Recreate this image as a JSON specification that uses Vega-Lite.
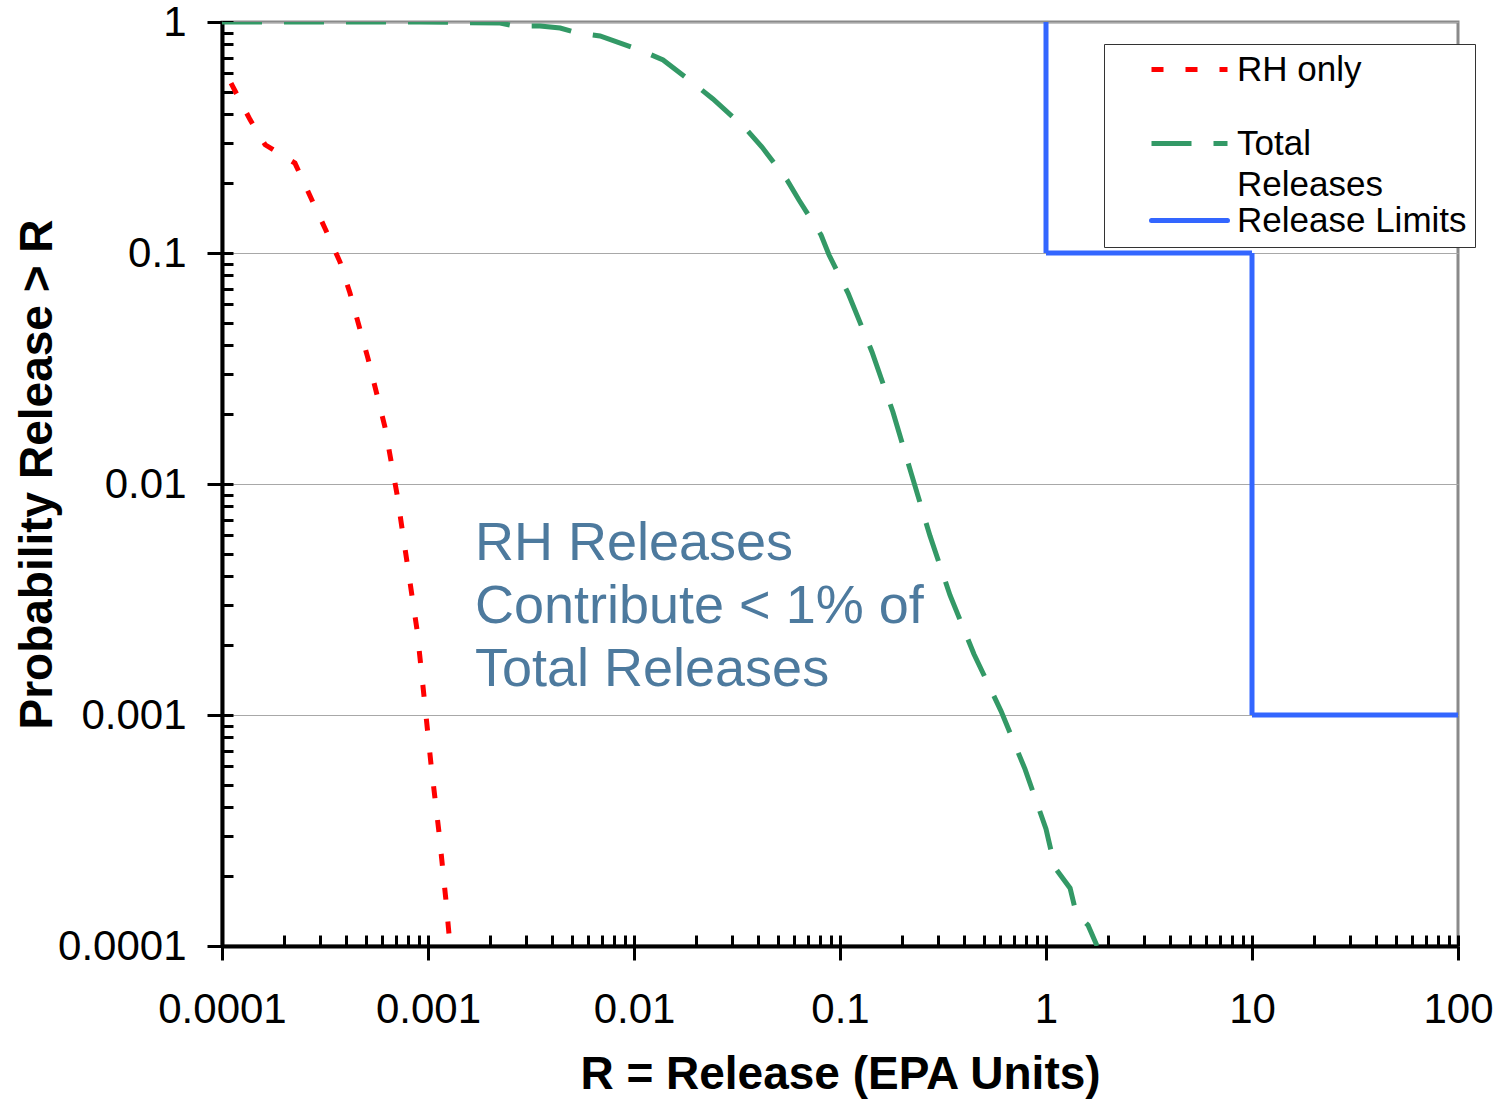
{
  "$schema": "https://vega.github.io/schema/vega-lite/v6.json",
  "width": 1236,
  "height": 924,
  "autosize": {"type": "none"},
  "padding": {"left": 222, "top": 22, "right": 43, "bottom": 155},
  "background": "white",
  "datasets": {
    "curves": [
      {"series": "RH only", "i": 1, "x": 0.0001106, "y": 0.544},
      {"series": "RH only", "i": 2, "x": 0.000137, "y": 0.377},
      {"series": "RH only", "i": 3, "x": 0.000162, "y": 0.294},
      {"series": "RH only", "i": 4, "x": 0.000226, "y": 0.245},
      {"series": "RH only", "i": 5, "x": 0.000316, "y": 0.128},
      {"series": "RH only", "i": 6, "x": 0.000374, "y": 0.0914},
      {"series": "RH only", "i": 7, "x": 0.000418, "y": 0.0671},
      {"series": "RH only", "i": 8, "x": 0.000512, "y": 0.0348},
      {"series": "RH only", "i": 9, "x": 0.000618, "y": 0.01766},
      {"series": "RH only", "i": 10, "x": 0.000707, "y": 0.00905},
      {"series": "RH only", "i": 11, "x": 0.000791, "y": 0.00459},
      {"series": "RH only", "i": 12, "x": 0.000885, "y": 0.00233},
      {"series": "RH only", "i": 13, "x": 0.000957, "y": 0.0012},
      {"series": "RH only", "i": 14, "x": 0.001035, "y": 0.000608},
      {"series": "RH only", "i": 15, "x": 0.00113, "y": 0.000312},
      {"series": "RH only", "i": 16, "x": 0.00122, "y": 0.00016},
      {"series": "RH only", "i": 17, "x": 0.00128, "y": 0.0001},
      {"series": "Total Releases", "i": 1, "x": 0.0001, "y": 1},
      {"series": "Total Releases", "i": 2, "x": 0.000914, "y": 1},
      {"series": "Total Releases", "i": 3, "x": 0.00224, "y": 0.99},
      {"series": "Total Releases", "i": 4, "x": 0.00264, "y": 0.961},
      {"series": "Total Releases", "i": 5, "x": 0.0035, "y": 0.961},
      {"series": "Total Releases", "i": 6, "x": 0.00438, "y": 0.942},
      {"series": "Total Releases", "i": 7, "x": 0.00535, "y": 0.896},
      {"series": "Total Releases", "i": 8, "x": 0.00684, "y": 0.87},
      {"series": "Total Releases", "i": 9, "x": 0.0107, "y": 0.756},
      {"series": "Total Releases", "i": 10, "x": 0.01384, "y": 0.685},
      {"series": "Total Releases", "i": 11, "x": 0.0202, "y": 0.528},
      {"series": "Total Releases", "i": 12, "x": 0.02417, "y": 0.4645},
      {"series": "Total Releases", "i": 13, "x": 0.0346, "y": 0.3477},
      {"series": "Total Releases", "i": 14, "x": 0.0418, "y": 0.2877},
      {"series": "Total Releases", "i": 15, "x": 0.0553, "y": 0.207},
      {"series": "Total Releases", "i": 16, "x": 0.0632, "y": 0.1696},
      {"series": "Total Releases", "i": 17, "x": 0.0809, "y": 0.1197},
      {"series": "Total Releases", "i": 18, "x": 0.0885, "y": 0.098},
      {"series": "Total Releases", "i": 19, "x": 0.1094, "y": 0.0671},
      {"series": "Total Releases", "i": 20, "x": 0.143, "y": 0.0373},
      {"series": "Total Releases", "i": 21, "x": 0.1807, "y": 0.0205},
      {"series": "Total Releases", "i": 22, "x": 0.2213, "y": 0.01117},
      {"series": "Total Releases", "i": 23, "x": 0.2735, "y": 0.00596},
      {"series": "Total Releases", "i": 24, "x": 0.342, "y": 0.0033},
      {"series": "Total Releases", "i": 25, "x": 0.4467, "y": 0.001837},
      {"series": "Total Releases", "i": 26, "x": 0.605, "y": 0.00104},
      {"series": "Total Releases", "i": 27, "x": 0.791, "y": 0.000583},
      {"series": "Total Releases", "i": 28, "x": 1.0, "y": 0.000321},
      {"series": "Total Releases", "i": 29, "x": 1.106, "y": 0.000218},
      {"series": "Total Releases", "i": 30, "x": 1.309, "y": 0.000178},
      {"series": "Total Releases", "i": 31, "x": 1.4, "y": 0.000139},
      {"series": "Total Releases", "i": 32, "x": 1.6, "y": 0.000123},
      {"series": "Total Releases", "i": 33, "x": 1.77, "y": 0.0001},
      {"series": "Release Limits", "i": 1, "x": 1, "y": 1},
      {"series": "Release Limits", "i": 2, "x": 1, "y": 0.1},
      {"series": "Release Limits", "i": 3, "x": 10, "y": 0.1},
      {"series": "Release Limits", "i": 4, "x": 10, "y": 0.001},
      {"series": "Release Limits", "i": 5, "x": 100, "y": 0.001}
    ],
    "note": [
      {"x": 0.00169, "y": 0.00469, "text": "RH Releases\nContribute < 1% of\nTotal Releases"}
    ]
  },
  "layer": [
    {
      "data": {"name": "curves"},
      "mark": {"type": "line", "strokeWidth": 5, "clip": true},
      "encoding": {
        "x": {
          "field": "x", "type": "quantitative",
          "scale": {"type": "log", "domain": [0.0001, 100]},
          "axis": {
            "orient": "bottom",
            "values": [0.0001, 0.001, 0.01, 0.1, 1, 10, 100],
            "format": "~g",
            "grid": false,
            "tickSize": 14,
            "labelPadding": 29,
            "title": "R = Release (EPA Units)",
            "titlePadding": 22
          }
        },
        "y": {
          "field": "y", "type": "quantitative",
          "scale": {"type": "log", "domain": [0.0001, 1]},
          "axis": {
            "orient": "left",
            "values": [0.0001, 0.001, 0.01, 0.1, 1],
            "format": "~g",
            "grid": true,
            "gridColor": "#a8a8a8",
            "gridWidth": 1.2,
            "tickSize": 15,
            "labelPadding": 21,
            "title": "Probability Release > R",
            "titlePadding": -4,
            "titleY": 452
          }
        },
        "color": {
          "field": "series", "type": "nominal",
          "scale": {"domain": ["RH only", "Total Releases", "Release Limits"], "range": ["#ff0000", "#339966", "#3366ff"]},
          "legend": {
            "title": null,
            "labelExpr": "datum.label == 'Total Releases' ? ['Total', 'Releases'] : datum.label",
            "encode": {
              "labels": {"update": {"lineHeight": {"value": 41}, "dy": {"signal": "datum.value == 'Total Releases' ? 38 : 0"}}},
              "symbols": {"update": {"shape": {"signal": "datum.value == 'Total Releases' ? 'M-4,4H4' : 'M-4,0H4'"}, "strokeCap": {"signal": "datum.value == 'Release Limits' ? 'round' : 'butt'"}}}
            }
          }
        },
        "strokeDash": {
          "field": "series", "type": "nominal",
          "scale": {"domain": ["RH only", "Total Releases", "Release Limits"], "range": [[12, 22], [40, 22], [1, 0]]},
          "legend": {
            "title": null,
            "labelExpr": "datum.label == 'Total Releases' ? ['Total', 'Releases'] : datum.label",
            "encode": {
              "labels": {"update": {"lineHeight": {"value": 41}, "dy": {"signal": "datum.value == 'Total Releases' ? 38 : 0"}}},
              "symbols": {"update": {"shape": {"signal": "datum.value == 'Total Releases' ? 'M-4,4H4' : 'M-4,0H4'"}, "strokeCap": {"signal": "datum.value == 'Release Limits' ? 'round' : 'butt'"}}}
            }
          }
        },
        "order": {"field": "i", "type": "quantitative"}
      }
    },
    {
      "data": {"name": "note"},
      "mark": {"type": "text", "align": "left", "baseline": "alphabetic", "fontSize": 54, "lineBreak": "\n", "lineHeight": 63, "color": "#4d7a9e", "font": "Liberation Sans"},
      "encoding": {
        "x": {
          "field": "x", "type": "quantitative",
          "scale": {"type": "log", "domain": [0.0001, 100]},
          "axis": {
            "orient": "bottom",
            "values": [0.0001, 0.0002, 0.0003, 0.0004, 0.0005, 0.0006, 0.0007, 0.0008, 0.0009, 0.001, 0.002, 0.003, 0.004, 0.005, 0.006, 0.007, 0.008, 0.009, 0.01, 0.02, 0.03, 0.04, 0.05, 0.06, 0.07, 0.08, 0.09, 0.1, 0.2, 0.3, 0.4, 0.5, 0.6, 0.7, 0.8, 0.9, 1, 2, 3, 4, 5, 6, 7, 8, 9, 10, 20, 30, 40, 50, 60, 70, 80, 90, 100],
            "labels": false, "domain": false, "grid": false, "title": null,
            "tickSize": -11
          }
        },
        "y": {
          "field": "y", "type": "quantitative",
          "scale": {"type": "log", "domain": [0.0001, 1]},
          "axis": {
            "orient": "left",
            "values": [0.0001, 0.0002, 0.0003, 0.0004, 0.0005, 0.0006, 0.0007, 0.0008, 0.0009, 0.001, 0.002, 0.003, 0.004, 0.005, 0.006, 0.007, 0.008, 0.009, 0.01, 0.02, 0.03, 0.04, 0.05, 0.06, 0.07, 0.08, 0.09, 0.1, 0.2, 0.3, 0.4, 0.5, 0.6, 0.7, 0.8, 0.9, 1],
            "labels": false, "domain": false, "grid": false, "title": null,
            "tickSize": -11
          }
        },
        "text": {"field": "text", "type": "nominal"}
      }
    }
  ],
  "resolve": {"axis": {"x": "independent", "y": "independent"}},
  "config": {
    "font": "Liberation Sans",
    "view": {"stroke": "#8a8a8a", "strokeWidth": 3},
    "axis": {
      "domainColor": "#000000",
      "domainWidth": 4,
      "tickColor": "#000000",
      "tickWidth": 3,
      "labelFont": "Liberation Sans",
      "labelFontSize": 42,
      "labelColor": "#000000",
      "labelFontWeight": "normal",
      "titleFont": "Liberation Sans",
      "titleFontSize": 46,
      "titleFontWeight": "bold",
      "titleColor": "#000000",
      "labelOverlap": false,
      "labelFlush": false
    },
    "legend": {
      "orient": "none",
      "legendX": 882,
      "legendY": 22,
      "direction": "vertical",
      "symbolType": "M-4,0H4",
      "symbolSize": 361,
      "symbolStrokeWidth": 5,
      "symbolOffset": 60,
      "labelFont": "Liberation Sans",
      "labelFontSize": 35,
      "labelColor": "#000000",
      "labelOffset": 30,
      "labelLimit": 400,
      "padding": 8,
      "rowPadding": 0,
      "strokeColor": "#333333",
      "fillColor": "#ffffff"
    }
  }
}
